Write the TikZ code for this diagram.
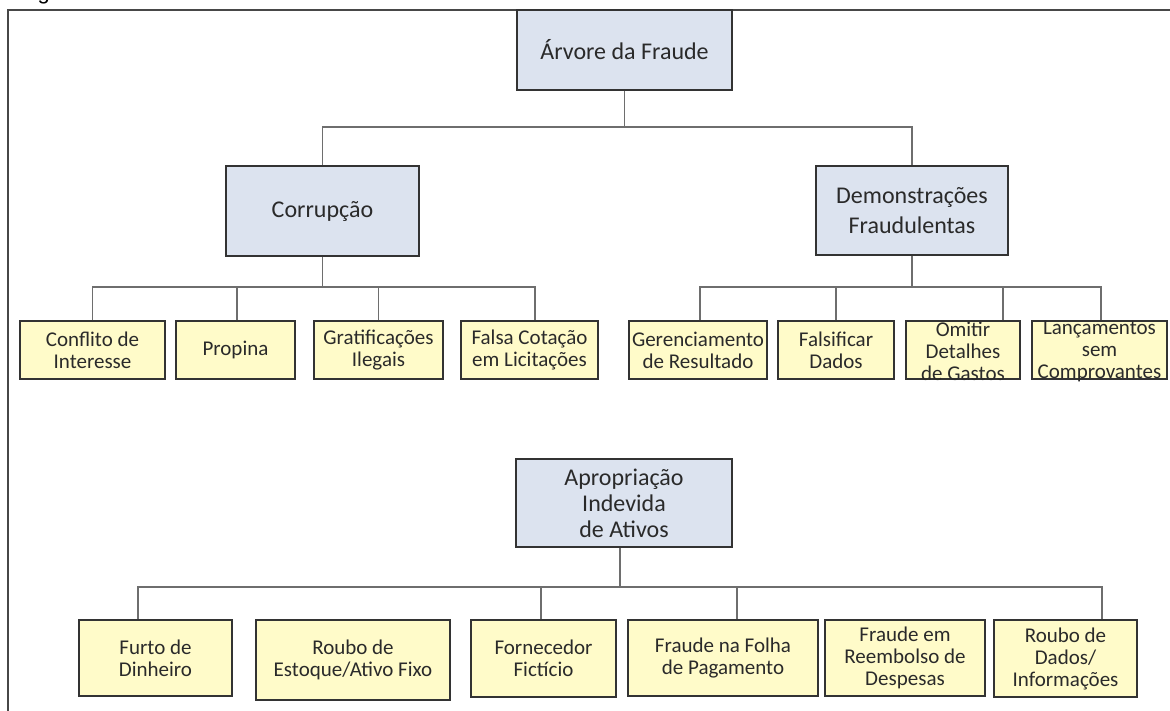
\documentclass[tikz,border=0pt]{standalone}
\usepackage{fontspec}
\setmainfont{Carlito}
\newfontfamily\figfont{Liberation Sans}
\usetikzlibrary{shadows,calc}
\definecolor{boxblue}{HTML}{DCE3EF}
\definecolor{boxyel}{HTML}{FFFBC9}
\definecolor{edge}{HTML}{333333}
\definecolor{wire}{HTML}{6E6E6E}
\definecolor{ink}{HTML}{2A2A2A}
\tikzset{
  basebox/.style={draw=edge, line width=1.3pt, rectangle, inner sep=1pt, align=center, text=ink,
    drop shadow={shadow xshift=1.2pt, shadow yshift=-1.4pt, opacity=1, fill=black!80}},
  mainbox/.style={basebox, fill=boxblue, font=\fontsize{24}{30}\selectfont},
  leafbox/.style={basebox, fill=boxyel, font=\fontsize{21}{22}\selectfont},
  leaftext/.style={inner sep=0pt, align=center, text=ink, font=\fontsize{21}{22}\selectfont},
  wireline/.style={draw=wire, line width=1.5pt},
  framel/.style={draw=edge!90, line width=2pt}
}
\begin{document}
\begin{tikzpicture}[x=1pt, y=-1pt]
\useasboundingbox (0,0) rectangle (1170,710);
\begin{scope}
\clip (0,0) rectangle (1170,710);
% frame
\draw[framel] (8,712) -- (8,10) -- (1172,10);
% partial caption text cut at the top
\node[anchor=base west, inner sep=0pt, font=\figfont\fontsize{22}{26}\selectfont, text=black] (cap) at (19,-0.5) {Fig};

% main boxes
\node[mainbox, minimum width=215pt, minimum height=80pt] (arv) at (624.5,50) {Árvore da Fraude};
\node[mainbox, minimum width=193pt, minimum height=90pt] (cor) at (322.5,211) {Corrupção};
\node[mainbox, minimum width=192pt, minimum height=89pt] (dem) at (912,210.5) {Demonstrações\\Fraudulentas};
\node[mainbox, minimum width=216pt, minimum height=88pt, font=\fontsize{24}{26}\selectfont] (apr) at (624,503) {Apropriação\\Indevida\\de Ativos};

% row 1 leaves
\node[leafbox, minimum width=145pt, minimum height=58pt] (c1) at (92.5,350) {Conflito de\\Interesse};
\node[leafbox, minimum width=119pt, minimum height=58pt] (c2) at (235.5,350) {Propina};
\node[leafbox, minimum width=129pt, minimum height=58pt] (c3) at (378.5,350) {Gratificações\\Ilegais};
\node[leafbox, minimum width=137pt, minimum height=58pt] (c4) at (529.5,350) {Falsa Cotação\\em Licitações};
\node[leafbox, minimum width=138pt, minimum height=58pt] (d1) at (698,350) {Gerenciamento\\de Resultado};
\node[leafbox, minimum width=116pt, minimum height=58pt] (d2) at (836,350) {Falsificar\\Dados};
\node[leafbox, minimum width=114pt, minimum height=58pt] (d3) at (963,350) {};
\node[leaftext] (d3t) at (963,351) {Omitir\\Detalhes\\de Gastos};
\node[leafbox, minimum width=135pt, minimum height=58pt] (d4) at (1099.5,350) {};
\node[leaftext] (d4t) at (1099.5,351) {Lançamentos\\sem\\Comprovantes};

% row 2 leaves
\node[leafbox, minimum width=153pt, minimum height=76pt] (a1) at (155.5,658) {Furto de\\Dinheiro};
\node[leafbox, minimum width=194pt, minimum height=80pt] (a2) at (353,660) {Roubo de\\Estoque/Ativo Fixo};
\node[leafbox, minimum width=145pt, minimum height=77pt] (a3) at (543.5,658.5) {Fornecedor\\Fictício};
\node[leafbox, minimum width=190pt, minimum height=76pt] (a4) at (723,658) {Fraude na Folha\\de Pagamento};
\node[leafbox, minimum width=160pt, minimum height=76pt] (a5) at (905,658) {Fraude em\\Reembolso de\\Despesas};
\node[leafbox, minimum width=143pt, minimum height=77pt] (a6) at (1065.5,658.5) {Roubo de\\Dados/\\Informações};

% bus coordinates
\coordinate (busT) at (624.5,127);
\coordinate (busC) at (322.5,287);
\coordinate (busD) at (912,287);
\coordinate (busA) at (620,587);

% connectors: top
\draw[wireline] (arv.south) -- (busT);
\draw[wireline] (cor.north) |- (busT) -| (dem.north);
% Corrupcao
\draw[wireline] (cor.south) -- (busC);
\draw[wireline] (c1.north) |- (busC) -| ([xshift=5.5pt]c4.north);
\draw[wireline] ([xshift=1.5pt]c2.north) -- ([xshift=1.5pt]c2.north |- busC);
\draw[wireline] (c3.north) -- (c3.north |- busC);
% Demonstracoes
\draw[wireline] (dem.south) -- (busD);
\draw[wireline] ([xshift=2pt]d1.north) |- (busD) -| ([xshift=1.5pt]d4.north);
\draw[wireline] (d2.north) -- (d2.north |- busD);
\draw[wireline] ([xshift=40pt]d3.north) -- ([xshift=40pt]d3.north |- busD);
% Apropriacao
\draw[wireline] ([xshift=-4pt]apr.south) -- (busA);
\draw[wireline] ([xshift=-17.5pt]a1.north) |- (busA) -| ([xshift=36.5pt]a6.north);
\draw[wireline] ([xshift=-2.5pt]a3.north) -- ([xshift=-2.5pt]a3.north |- busA);
\draw[wireline] ([xshift=14pt]a4.north) -- ([xshift=14pt]a4.north |- busA);
\end{scope}
\end{tikzpicture}
\end{document}
